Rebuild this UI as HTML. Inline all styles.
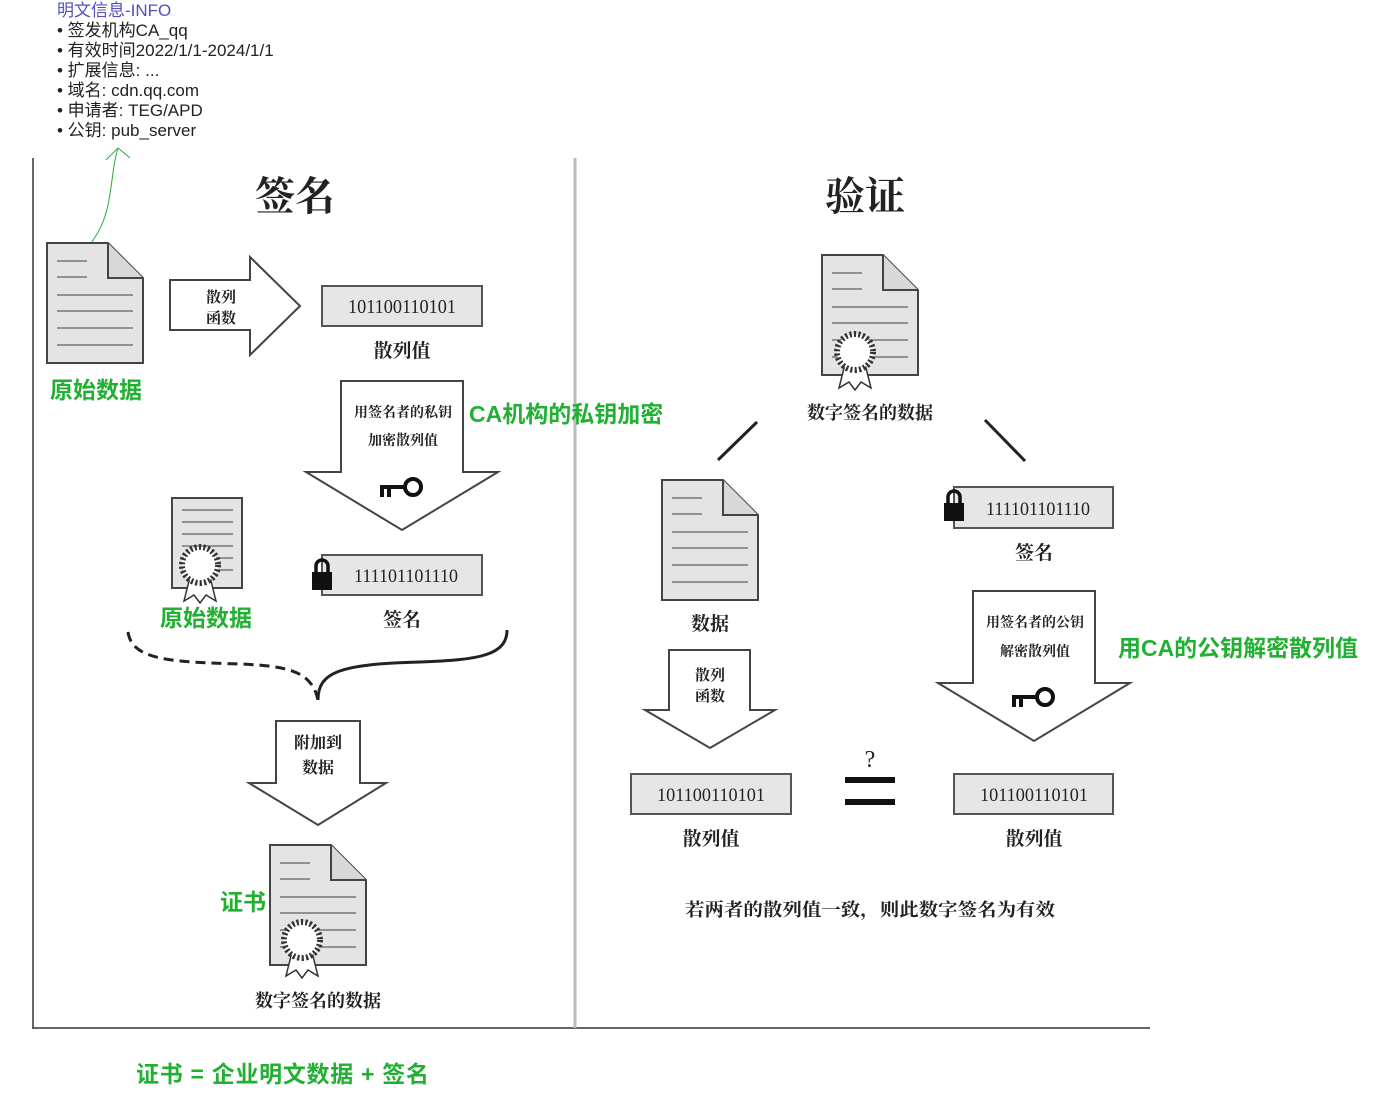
<!DOCTYPE html>
<html><head><meta charset="utf-8"><style>
html,body{margin:0;padding:0;background:#fff;}
svg{display:block;}
.s{font-family:"Liberation Serif","Noto Serif CJK SC",serif;fill:#222;}
.h{font-family:"Liberation Sans","Noto Sans CJK SC",sans-serif;}
.g{font-family:"Liberation Sans","Noto Sans CJK SC",sans-serif;fill:#22b033;font-weight:bold;font-size:23px;}
</style></head><body>
<svg width="1399" height="1110" viewBox="0 0 1399 1110" xmlns="http://www.w3.org/2000/svg">
<defs>
<g id="doc">
<path d="M0,0 H61 L96,35 V120 H0 Z" fill="#e4e4e4" stroke="#444" stroke-width="2"/>
<path d="M61,0 V35 H96" fill="#d8d8d8" stroke="#444" stroke-width="2"/>
<g stroke="#777" stroke-width="1.5">
<line x1="10" y1="18" x2="40" y2="18"/><line x1="10" y1="34" x2="40" y2="34"/>
<line x1="10" y1="52" x2="86" y2="52"/><line x1="10" y1="68" x2="86" y2="68"/>
<line x1="10" y1="85" x2="86" y2="85"/><line x1="10" y1="102" x2="86" y2="102"/>
</g></g>
<g id="seal">
<path d="M-10,12 L-16,36 L-6,30 L0,38 L6,30 L16,36 L10,12" fill="#fff" stroke="#333" stroke-width="1.5"/>
<circle r="18" fill="#fff" stroke="#333" stroke-width="6" stroke-dasharray="2.2 2.2"/>
<circle r="15" fill="#fff"/>
</g>
<g id="key"><circle cx="13" cy="0" r="8" fill="none" stroke="#111" stroke-width="4"/><path d="M5,0 H-20 M-18,0 V10 M-11,0 V10" stroke="#111" stroke-width="4" fill="none"/></g>
<g id="lock"><path d="M-6,-2 V-8 A6,6 0 0 1 6,-8 V-2" fill="none" stroke="#111" stroke-width="3.5"/><rect x="-10" y="-2" width="20" height="18" fill="#111"/></g>
</defs>

<text x="57" y="16" class="h" font-size="17" fill="#5050c0">明文信息-INFO</text>
<g class="h" font-size="17" fill="#222">
<text x="57" y="36">• 签发机构CA_qq</text>
<text x="57" y="56">• 有效时间2022/1/1-2024/1/1</text>
<text x="57" y="76">• 扩展信息: ...</text>
<text x="57" y="96">• 域名: cdn.qq.com</text>
<text x="57" y="116">• 申请者: TEG/APD</text>
<text x="57" y="136">• 公钥: pub_server</text>
</g>
<path d="M80,256 C105,230 108,210 112,180 C114,165 115,158 118,148" fill="none" stroke="#22b033" stroke-width="1"/>
<path d="M106,160 L118,148 L130,158" fill="none" stroke="#22b033" stroke-width="1"/>

<line x1="33" y1="158" x2="33" y2="1029" stroke="#333" stroke-width="1.5"/>
<line x1="33" y1="1028" x2="1150" y2="1028" stroke="#333" stroke-width="1.5"/>
<line x1="575" y1="158" x2="575" y2="1028" stroke="#bbb" stroke-width="3"/>

<text x="295" y="210" class="s" font-size="40" text-anchor="middle" font-weight="bold">签名</text>
<text x="865" y="210" class="s" font-size="40" text-anchor="middle" font-weight="bold">验证</text>

<use href="#doc" x="47" y="243"/>
<text x="50" y="398" class="g">原始数据</text>
<path d="M170,280 H250 V257 L300,306 L250,355 V330 H170 Z" fill="#fff" stroke="#444" stroke-width="2"/>
<text x="221" y="302" class="s" font-size="15" text-anchor="middle" font-weight="bold">散列</text>
<text x="221" y="323" class="s" font-size="15" text-anchor="middle" font-weight="bold">函数</text>
<rect x="322" y="286" width="160" height="40" fill="#e6e6e6" stroke="#555" stroke-width="2"/>
<text x="348" y="313" class="s" font-size="20" textLength="108" lengthAdjust="spacingAndGlyphs">101100110101</text>
<text x="402" y="357" class="s" font-size="19" text-anchor="middle" font-weight="bold">散列值</text>

<path d="M341,381 H463 V472 H498 L402,530 L306,472 H341 Z" fill="#fff" stroke="#444" stroke-width="2"/>
<text x="403" y="417" class="s" font-size="14" text-anchor="middle" font-weight="bold">用签名者的私钥</text>
<text x="403" y="445" class="s" font-size="14" text-anchor="middle" font-weight="bold">加密散列值</text>
<use href="#key" x="400" y="487"/>
<text x="469" y="422" class="g">CA机构的私钥加密</text>

<rect x="172" y="498" width="70" height="90" fill="#e4e4e4" stroke="#444" stroke-width="2"/>
<g stroke="#777" stroke-width="1.5"><line x1="182" y1="510" x2="233" y2="510"/><line x1="182" y1="522" x2="233" y2="522"/><line x1="182" y1="534" x2="233" y2="534"/><line x1="182" y1="546" x2="233" y2="546"/><line x1="182" y1="558" x2="233" y2="558"/><line x1="182" y1="570" x2="233" y2="570"/></g>
<use href="#seal" x="200" y="565"/>
<text x="160" y="626" class="g">原始数据</text>

<rect x="322" y="555" width="160" height="40" fill="#e6e6e6" stroke="#555" stroke-width="2"/>
<use href="#lock" x="322" y="574"/>
<text x="354" y="582" class="s" font-size="19" textLength="104" lengthAdjust="spacingAndGlyphs">111101101110</text>
<text x="402" y="626" class="s" font-size="19" text-anchor="middle" font-weight="bold">签名</text>

<path d="M128,632 C132,660 170,662 240,664 C290,666 312,672 318,700" fill="none" stroke="#222" stroke-width="3" stroke-dasharray="10 6"/>
<path d="M318,700 C318,672 340,664 420,662 C480,660 507,655 507,630" fill="none" stroke="#222" stroke-width="3"/>

<path d="M276,721 H360 V783 H386 L318,825 L249,783 H276 Z" fill="#fff" stroke="#444" stroke-width="2"/>
<text x="318" y="748" class="s" font-size="16" text-anchor="middle" font-weight="bold">附加到</text>
<text x="318" y="773" class="s" font-size="16" text-anchor="middle" font-weight="bold">数据</text>

<use href="#doc" x="270" y="845"/>
<use href="#seal" x="302" y="940"/>
<text x="220" y="910" class="g">证书</text>
<text x="318" y="1007" class="s" font-size="18" text-anchor="middle" font-weight="bold">数字签名的数据</text>

<use href="#doc" x="822" y="255"/>
<use href="#seal" x="855" y="352"/>
<text x="870" y="419" class="s" font-size="18" text-anchor="middle" font-weight="bold">数字签名的数据</text>
<line x1="718" y1="460" x2="757" y2="422" stroke="#222" stroke-width="3"/>
<line x1="985" y1="420" x2="1025" y2="461" stroke="#222" stroke-width="3"/>

<use href="#doc" x="662" y="480"/>
<text x="710" y="630" class="s" font-size="19" text-anchor="middle" font-weight="bold">数据</text>
<path d="M669,650 H750 V710 H775 L710,748 L645,710 H669 Z" fill="#fff" stroke="#444" stroke-width="2"/>
<text x="710" y="680" class="s" font-size="15" text-anchor="middle" font-weight="bold">散列</text>
<text x="710" y="701" class="s" font-size="15" text-anchor="middle" font-weight="bold">函数</text>
<rect x="631" y="774" width="160" height="40" fill="#e6e6e6" stroke="#555" stroke-width="2"/>
<text x="657" y="801" class="s" font-size="19" textLength="108" lengthAdjust="spacingAndGlyphs">101100110101</text>
<text x="711" y="845" class="s" font-size="19" text-anchor="middle" font-weight="bold">散列值</text>

<text x="870" y="767" class="s" font-size="24" text-anchor="middle">?</text>
<rect x="845" y="777" width="50" height="6" fill="#111"/>
<rect x="845" y="799" width="50" height="6" fill="#111"/>

<rect x="954" y="487" width="159" height="41" fill="#e6e6e6" stroke="#555" stroke-width="2"/>
<use href="#lock" x="954" y="505"/>
<text x="986" y="515" class="s" font-size="19" textLength="104" lengthAdjust="spacingAndGlyphs">111101101110</text>
<text x="1034" y="559" class="s" font-size="19" text-anchor="middle" font-weight="bold">签名</text>

<path d="M973,591 H1095 V683 H1130 L1034,741 L938,683 H973 Z" fill="#fff" stroke="#444" stroke-width="2"/>
<text x="1035" y="627" class="s" font-size="14" text-anchor="middle" font-weight="bold">用签名者的公钥</text>
<text x="1035" y="656" class="s" font-size="14" text-anchor="middle" font-weight="bold">解密散列值</text>
<use href="#key" x="1032" y="697"/>
<text x="1118" y="656" class="g" textLength="240" lengthAdjust="spacingAndGlyphs">用CA的公钥解密散列值</text>

<rect x="954" y="774" width="159" height="40" fill="#e6e6e6" stroke="#555" stroke-width="2"/>
<text x="980" y="801" class="s" font-size="19" textLength="108" lengthAdjust="spacingAndGlyphs">101100110101</text>
<text x="1034" y="845" class="s" font-size="19" text-anchor="middle" font-weight="bold">散列值</text>

<text x="685" y="916" class="s" font-size="18" font-weight="bold" textLength="370" lengthAdjust="spacingAndGlyphs">若两者的散列值一致，则此数字签名为有效</text>

<text x="136" y="1082" class="g" textLength="293" lengthAdjust="spacing">证书 = 企业明文数据 + 签名</text>
</svg>
</body></html>
